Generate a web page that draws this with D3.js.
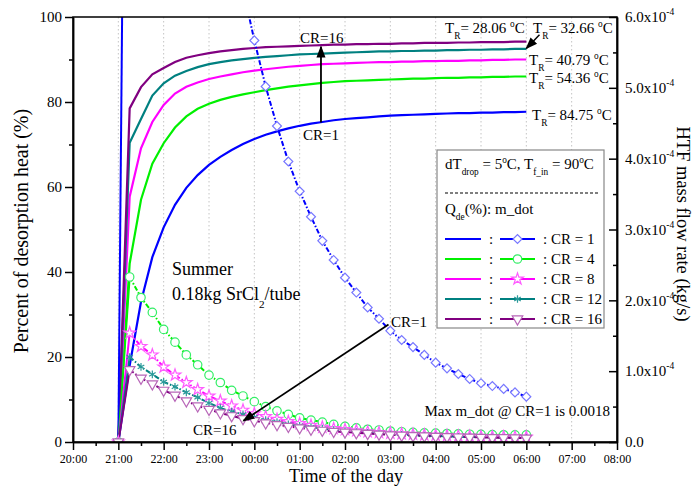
<!DOCTYPE html>
<html>
<head>
<meta charset="utf-8">
<script src="https://cdn.jsdelivr.net/npm/d3@7"></script>
<style>
  html, body { margin: 0; padding: 0; background: #fff; }
  svg { display: block; }
  svg text { font-family: "Liberation Serif", Tinos, "Times New Roman", Times, "DejaVu Serif", serif; }
</style>
</head>
<body>
<svg id="chart" width="694" height="489"></svg>
<script>
/* ---------- data ---------- */
// time of day in hours after midnight of day 0 (24 = 00:00 next day), 15 min steps
const timeH = [21, 21.25, 21.5, 21.75, 22, 22.25, 22.5, 22.75, 23, 23.25, 23.5, 23.75,
               24, 24.25, 24.5, 24.75, 25, 25.25, 25.5, 25.75, 26, 26.25, 26.5, 26.75,
               27, 27.25, 27.5, 27.75, 28, 28.25, 28.5, 28.75, 29, 29.25, 29.5, 29.75, 30];

const crLabels = ["CR = 1", "CR = 4", "CR = 8", "CR = 12", "CR = 16"];

// percent of desorption heat (%)
const qCR1  = [0, 18, 33, 43.5, 50.5, 55.8, 59.8, 62.8, 65.2, 67.1, 68.7, 70.1, 71.3, 72.3, 73.1, 73.8, 74.4, 74.9, 75.3,
               75.7, 76.0, 76.2, 76.4, 76.6, 76.8, 76.9, 77.0, 77.1, 77.2, 77.3, 77.4, 77.4, 77.5, 77.5, 77.6, 77.6, 77.7];
const qCR4  = [0, 42, 57, 65.5, 70.3, 74.0, 76.6, 78.4, 79.6, 80.5, 81.2, 81.8, 82.3, 82.8, 83.2, 83.6, 83.9, 84.2, 84.5,
               84.7, 84.9, 85.0, 85.1, 85.2, 85.3, 85.4, 85.5, 85.5, 85.6, 85.7, 85.7, 85.8, 85.8, 85.9, 85.9, 86.0, 86.0];
const qCR8  = [0, 57.7, 69.1, 75.3, 79.3, 82.0, 83.6, 84.6, 85.4, 86.0, 86.5, 87.0, 87.4, 87.7, 88.0, 88.3, 88.5, 88.7, 88.9,
               89.0, 89.1, 89.2, 89.3, 89.4, 89.4, 89.5, 89.5, 89.6, 89.6, 89.7, 89.7, 89.8, 89.8, 89.9, 89.9, 90.0, 90.0];
const qCR12 = [0, 70.4, 76.0, 81.5, 84.4, 86.2, 87.3, 88.2, 88.9, 89.4, 89.8, 90.1, 90.4, 90.6, 90.8, 91.0, 91.2, 91.3, 91.4,
               91.5, 91.6, 91.7, 91.8, 91.9, 91.9, 92.0, 92.0, 92.1, 92.1, 92.2, 92.2, 92.3, 92.3, 92.4, 92.4, 92.5, 92.5];
const qCR16 = [0, 78.5, 83.5, 86.5, 88.0, 89.4, 90.4, 91.0, 91.5, 91.9, 92.2, 92.5, 92.7, 92.9, 93.0, 93.1, 93.2, 93.3, 93.4,
               93.5, 93.5, 93.6, 93.6, 93.7, 93.7, 93.8, 93.8, 93.9, 93.9, 93.9, 94.0, 94.0, 94.1, 94.1, 94.1, 94.2, 94.2];

// HTF mass flow rate, units of 1e-4 kg/s
const mCR1  = [0, 18, 17.0, 15.8, 14.5, 13.2, 11.9, 10.6, 9.4, 8.3, 7.3, 6.4, 5.67, 5.02, 4.46, 3.96, 3.54, 3.18, 2.84,
               2.57, 2.32, 2.11, 1.90, 1.74, 1.57, 1.44, 1.34, 1.23, 1.12, 1.04, 0.96, 0.89, 0.83, 0.79, 0.75, 0.70, 0.64];
const mCR4  = [0, 2.33, 2.04, 1.83, 1.59, 1.41, 1.23, 1.09, 0.945, 0.84, 0.73, 0.65, 0.57, 0.50, 0.44, 0.39, 0.34, 0.31, 0.28,
               0.25, 0.22, 0.20, 0.18, 0.17, 0.155, 0.145, 0.137, 0.13, 0.125, 0.12, 0.115, 0.11, 0.108, 0.105, 0.102, 0.10, 0.10];
const mCR8  = [0, 1.54, 1.35, 1.23, 1.06, 0.945, 0.84, 0.74, 0.65, 0.58, 0.51, 0.45, 0.40, 0.36, 0.32, 0.29, 0.26, 0.235, 0.21,
               0.19, 0.175, 0.16, 0.145, 0.135, 0.125, 0.115, 0.108, 0.10, 0.095, 0.09, 0.085, 0.08, 0.078, 0.075, 0.072, 0.07, 0.068];
const mCR12 = [0, 1.20, 1.06, 0.955, 0.85, 0.78, 0.70, 0.63, 0.55, 0.48, 0.43, 0.39, 0.35, 0.31, 0.28, 0.25, 0.23, 0.21, 0.19,
               0.17, 0.155, 0.14, 0.13, 0.12, 0.11, 0.10, 0.095, 0.09, 0.085, 0.08, 0.075, 0.07, 0.068, 0.065, 0.062, 0.06, 0.058];
const mCR16 = [0, 1.02, 0.90, 0.82, 0.73, 0.66, 0.58, 0.51, 0.46, 0.41, 0.37, 0.33, 0.30, 0.27, 0.245, 0.22, 0.20, 0.18, 0.165,
               0.15, 0.14, 0.13, 0.12, 0.11, 0.10, 0.095, 0.09, 0.085, 0.08, 0.075, 0.07, 0.068, 0.065, 0.062, 0.06, 0.058, 0.055];

const timeTicks = ["20:00", "21:00", "22:00", "23:00", "00:00", "01:00", "02:00",
                   "03:00", "04:00", "05:00", "06:00", "07:00", "08:00"];
const qTicks = [0, 20, 40, 60, 80, 100];
const mTicks = ["0.0", "1.0x10", "2.0x10", "3.0x10", "4.0x10", "5.0x10", "6.0x10"];

const trLabels = ["28.06", "32.66", "40.79", "54.36", "84.75"];

/* ---------- setup ---------- */
const FONT = "'Liberation Serif', Tinos, 'Times New Roman', Times, 'DejaVu Serif', serif";
const plot = { left: 73, top: 17, right: 617, bottom: 442 };
const svg = d3.select("#chart").attr("font-family", FONT);

const x  = d3.scaleLinear().domain([20, 32]).range([plot.left, plot.right]);
const yQ = d3.scaleLinear().domain([0, 100]).range([plot.bottom, plot.top]);
const yM = d3.scaleLinear().domain([0, 6]).range([plot.bottom, plot.top]);

const series = [
  { q: qCR1,  m: mCR1,  color: "#0000ff", mark: "#7878ff", sym: d3.symbolSquare,   size: 40, rot: 45,  fill: "#fff" },
  { q: qCR4,  m: mCR4,  color: "#00f000", mark: "#33ee66", sym: d3.symbolCircle,   size: 56, rot: 0,   fill: "#fff" },
  { q: qCR8,  m: mCR8,  color: "#ff00ff", mark: "#ff5cff", sym: d3.symbolStar,     size: 42, rot: 0,   fill: "#fff" },
  { q: qCR12, m: mCR12, color: "#008080", mark: "#2a9a9a", sym: d3.symbolAsterisk, size: 40, rot: 0,   fill: "none" },
  { q: qCR16, m: mCR16, color: "#800080", mark: "#b866b8", sym: d3.symbolTriangle, size: 48, rot: 180, fill: "#fff" }
];
series.forEach((s, i) => s.label = crLabels[i]);

const defs = svg.append("defs");
defs.append("clipPath").attr("id", "plotClip").append("rect")
  .attr("x", plot.left).attr("y", plot.top)
  .attr("width", plot.right - plot.left).attr("height", plot.bottom - plot.top);
defs.append("marker").attr("id", "arr")
  .attr("viewBox", "0 0 10 10").attr("refX", 9).attr("refY", 5)
  .attr("markerUnits", "userSpaceOnUse").attr("markerWidth", 12).attr("markerHeight", 12)
  .attr("orient", "auto")
  .append("path").attr("d", "M0,1.2L10,5L0,8.8z").attr("fill", "#000");

// text with sub/superscripts: parts = [[str, "sub"|"sup"|undefined], ...]
function rich(g, px, py, parts, size, anchor) {
  const t = g.append("text").attr("x", px).attr("y", py).attr("font-family", FONT)
    .attr("font-size", size).attr("text-anchor", anchor || "start").attr("fill", "#000");
  let shift = 0;
  parts.forEach(([s, k]) => {
    const target = k === "sub" ? size * 0.42 : k === "sup" ? -size * 0.42 : 0;
    t.append("tspan").attr("dy", target - shift)
      .attr("font-size", k ? size * 0.62 : size).text(s);
    shift = target;
  });
  return t;
}

/* ---------- grid ---------- */
svg.append("g").selectAll("line").data(d3.range(21, 32)).join("line")
  .attr("x1", d => x(d)).attr("x2", d => x(d))
  .attr("y1", plot.top).attr("y2", plot.bottom)
  .attr("stroke", "#c4c4c4").attr("stroke-width", 1).attr("stroke-dasharray", "1.5,2.5");

/* ---------- series ---------- */
const dataLayer = svg.append("g").attr("clip-path", "url(#plotClip)");

const qLine = d3.line().x((d, i) => x(timeH[i])).y(d => yQ(d));
const mLine = d3.line().x(d => x(d[0])).y(d => yM(d[1]));

dataLayer.selectAll("path.q").data(series).join("path").attr("class", "q")
  .attr("d", d => qLine(d.q))
  .attr("fill", "none").attr("stroke", d => d.color).attr("stroke-width", 2.2);

// first rise (21:00 -> 21:15) drawn solid, the decay dash-dotted
dataLayer.selectAll("path.mrise").data(series).join("path").attr("class", "mrise")
  .attr("d", d => mLine(d.m.slice(0, 2).map((v, i) => [timeH[i], v])))
  .attr("fill", "none").attr("stroke", d => d.color).attr("stroke-width", 2);
dataLayer.selectAll("path.m").data(series).join("path").attr("class", "m")
  .attr("d", d => mLine(d.m.map((v, i) => [timeH[i], v]).slice(1)))
  .attr("fill", "none").attr("stroke", d => d.color).attr("stroke-width", 2)
  .attr("stroke-dasharray", "5,2,1.5,2");

series.forEach(s => {
  dataLayer.append("g").selectAll("path").data(s.m).join("path")
    .attr("transform", (d, i) => `translate(${x(timeH[i])},${yM(d)}) rotate(${s.rot})`)
    .attr("d", d3.symbol(s.sym, s.size))
    .attr("fill", s.fill).attr("stroke", s.mark).attr("stroke-width", 1.2);
});

/* ---------- axes ---------- */
function styleAxis(g, size) {
  g.attr("font-family", FONT);
  g.selectAll("text").attr("font-size", size).attr("fill", "#000");
  g.selectAll("line, path").attr("stroke", "#000").attr("stroke-width", 1.5);
}

svg.append("g").attr("transform", `translate(${plot.left},0)`)
  .call(d3.axisLeft(yQ).tickValues(qTicks).tickSize(8).tickSizeOuter(0).tickPadding(3))
  .call(styleAxis, 15);
svg.append("g").attr("transform", `translate(${plot.left},0)`)
  .call(d3.axisLeft(yQ).tickValues([10, 30, 50, 70, 90]).tickSize(4).tickSizeOuter(0).tickFormat(""))
  .call(styleAxis, 15);

svg.append("g").attr("transform", `translate(0,${plot.bottom})`)
  .call(d3.axisBottom(x).tickValues(d3.range(20, 33)).tickFormat((d, i) => timeTicks[i])
    .tickSize(8).tickSizeOuter(0).tickPadding(4.5))
  .call(styleAxis, 12);
svg.append("g").attr("transform", `translate(0,${plot.bottom})`)
  .call(d3.axisBottom(x).tickValues(d3.range(20.5, 32, 1)).tickSize(4).tickSizeOuter(0).tickFormat(""))
  .call(styleAxis, 12);

const rightAxis = svg.append("g").attr("transform", `translate(${plot.right},0)`)
  .call(d3.axisRight(yM).tickValues(d3.range(0, 7)).tickSizeInner(-8).tickSizeOuter(0).tickPadding(8))
  .call(styleAxis, 15);
rightAxis.selectAll(".tick text").each(function(d, i) {
  const t = d3.select(this).text("");
  t.append("tspan").text(mTicks[i]);
  if (i > 0) t.append("tspan").attr("dy", -7).attr("font-size", 9.5).text("-4");
});
svg.append("g").attr("transform", `translate(${plot.right},0)`)
  .call(d3.axisRight(yM).tickValues(d3.range(0.5, 6, 1)).tickSizeInner(-4).tickSizeOuter(0).tickFormat(""))
  .call(styleAxis, 15);

// frame
svg.append("rect")
  .attr("x", plot.left).attr("y", plot.top)
  .attr("width", plot.right - plot.left).attr("height", plot.bottom - plot.top)
  .attr("fill", "none").attr("stroke", "#000").attr("stroke-width", 1.5);

// titles
svg.append("text").attr("x", (plot.left + plot.right) / 2 + 1).attr("y", 482)
  .attr("text-anchor", "middle").attr("font-size", 18).text("Time of the day");
svg.append("text").attr("transform", "translate(28,231) rotate(-90)")
  .attr("text-anchor", "middle").attr("font-size", 20).text("Percent of desorption heat (%)");
svg.append("text").attr("transform", "translate(677,224) rotate(90)")
  .attr("text-anchor", "middle").attr("font-size", 18.5).text("HTF mass flow rate (kg/s)");

/* ---------- annotations ---------- */
const ann = svg.append("g");

const trPos = [[445, 33], [533, 33], [529, 65], [529, 83], [532, 120]];
trLabels.forEach((v, i) => {
  rich(ann, trPos[i][0], trPos[i][1], [["T"], ["R", "sub"], ["= " + v + " "], ["o", "sup"], ["C"]], 15);
});
ann.append("line")
  .attr("x1", x(30.29)).attr("y1", yQ(95.8)).attr("x2", x(30.0)).attr("y2", yQ(92.6))
  .attr("stroke", "#000").attr("stroke-width", 1.5).attr("marker-end", "url(#arr)");

// CR=1 -> CR=16 on the heat curves
ann.append("line")
  .attr("x1", x(25.47)).attr("y1", yQ(75.2)).attr("x2", x(25.47)).attr("y2", yQ(93.0))
  .attr("stroke", "#000").attr("stroke-width", 1.8).attr("marker-end", "url(#arr)");
ann.append("text").attr("x", 300).attr("y", 43).attr("font-size", 15).text("CR=16");
ann.append("text").attr("x", 303).attr("y", 140).attr("font-size", 15).text("CR=1");

// CR=1 -> CR=16 on the flow curves
ann.append("line")
  .attr("x1", x(26.96)).attr("y1", yM(1.66)).attr("x2", x(23.76)).attr("y2", yM(0.30))
  .attr("stroke", "#000").attr("stroke-width", 1.8).attr("marker-end", "url(#arr)");
ann.append("text").attr("x", 391).attr("y", 327).attr("font-size", 15).text("CR=1");
ann.append("text").attr("x", 193).attr("y", 435).attr("font-size", 15).text("CR=16");

ann.append("text").attr("x", 172).attr("y", 275).attr("font-size", 18).text("Summer");
rich(ann, 172, 300, [["0.18kg SrCl"], ["2", "sub"], ["/tube"]], 18);
ann.append("text").attr("x", 610).attr("y", 416).attr("text-anchor", "end")
  .attr("font-size", 15).text("Max m_dot @ CR=1 is 0.0018");

/* ---------- legend ---------- */
const legend = svg.append("g");
legend.append("rect").attr("x", 437).attr("y", 150).attr("width", 167).attr("height", 178)
  .attr("fill", "#fff").attr("stroke", "#888").attr("stroke-width", 1.2);
rich(legend, 445, 169, [["dT"], ["drop", "sub"], [" = 5"], ["o", "sup"], ["C, T"], ["f_in", "sub"], [" = 90"], ["o", "sup"], ["C"]], 15);
legend.append("line").attr("x1", 445).attr("x2", 598).attr("y1", 193).attr("y2", 193)
  .attr("stroke", "#000").attr("stroke-width", 1.2).attr("stroke-dasharray", "3,2");
rich(legend, 445, 214, [["Q"], ["de", "sub"], ["(%): m_dot"]], 15);

const rows = legend.selectAll("g.row").data(series).join("g").attr("class", "row")
  .attr("transform", (d, i) => `translate(0,${239 + i * 20})`);
rows.append("line").attr("x1", 445).attr("x2", 481).attr("y1", 0).attr("y2", 0)
  .attr("stroke", d => d.color).attr("stroke-width", 2.2);
rows.append("text").attr("x", 489).attr("y", 5).attr("font-size", 15).text(":");
rows.append("line").attr("x1", 500).attr("x2", 535).attr("y1", 0).attr("y2", 0)
  .attr("stroke", d => d.color).attr("stroke-width", 2);
rows.append("path")
  .attr("transform", d => `translate(517.5,0) rotate(${d.rot})`)
  .attr("d", d => d3.symbol(d.sym, d.size)())
  .attr("fill", d => d.fill === "none" ? "#fff" : d.fill).attr("stroke", d => d.mark).attr("stroke-width", 1.2);
rows.append("text").attr("x", 543).attr("y", 5).attr("font-size", 15).text(d => ": " + d.label);
</script>
</body>
</html>
